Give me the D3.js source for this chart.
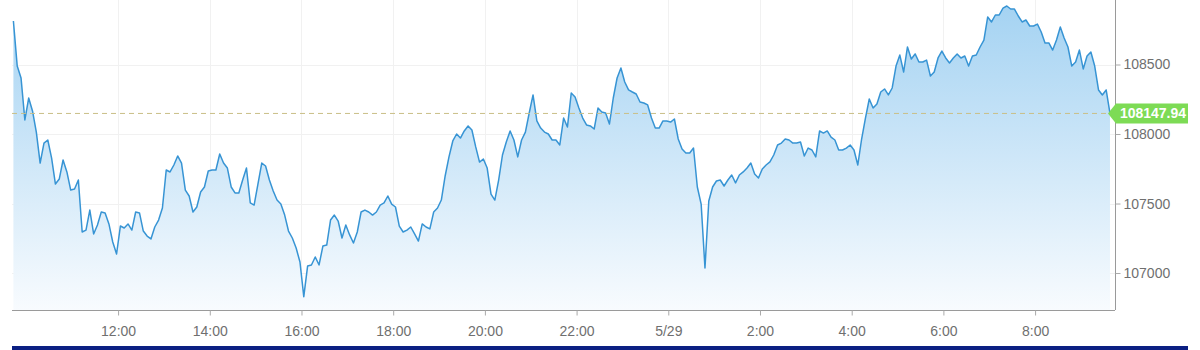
<!DOCTYPE html>
<html>
<head>
<meta charset="utf-8">
<style>
body { margin: 0; background: #fff; }
svg { display: block; font-family: "Liberation Sans", Arial, sans-serif; }
</style>
</head>
<body>
<svg width="1200" height="350"></svg>
<script src="https://d3js.org/d3.v7.min.js"></script>
<script>

// quote every 5 minutes, starting 5/28 9:43
var startTime = new Date(2018, 4, 28, 9, 43);
var stepMinutes = 5;

var prices = [
  108813, 108489, 108403, 108101, 108259, 108166, 108014, 107791, 107935, 107957,
  107827, 107640, 107676, 107813, 107727, 107597, 107604, 107669, 107295, 107309,
  107453, 107281, 107345, 107439, 107432, 107353, 107223, 107137, 107338, 107324,
  107353, 107309, 107439, 107432, 107302, 107266, 107245, 107331, 107381, 107468,
  107741, 107727, 107777, 107842, 107791, 107597, 107554, 107439, 107475, 107583,
  107619, 107734, 107741, 107741, 107856, 107791, 107755, 107619, 107576, 107576,
  107669, 107755, 107504, 107489, 107640, 107791, 107770, 107669, 107590, 107525,
  107496, 107417, 107302, 107252, 107180, 107079, 106830, 107050, 107058, 107115,
  107058, 107194, 107201, 107381, 107417, 107374, 107252, 107345, 107274, 107216,
  107295, 107439, 107453, 107439, 107417, 107439, 107489, 107504, 107554, 107496,
  107475, 107338, 107295, 107309, 107331, 107281, 107230, 107353, 107331, 107317,
  107439, 107468, 107525, 107698, 107835, 107950, 108000, 107971, 108022, 108058,
  108029, 107907, 107798, 107820, 107755, 107568, 107525, 107669, 107849, 107942,
  108022, 107957, 107835, 107957, 108014, 108151, 108281, 108094, 108043, 108014,
  108000, 107957, 107957, 107921, 108115, 108050, 108295, 108266, 108187, 108115,
  108065, 108058, 108036, 108187, 108158, 108151, 108072, 108259, 108403, 108475,
  108374, 108317, 108302, 108288, 108230, 108223, 108209, 108115, 108043, 108043,
  108094, 108094, 108086, 108108, 107964, 107892, 107864, 107864, 107899, 107619,
  107496, 107036, 107518, 107619, 107662, 107669, 107626, 107669, 107705, 107648,
  107705, 107727, 107755, 107791, 107712, 107684, 107748, 107777, 107799, 107849,
  107921, 107935, 107964, 107957, 107935, 107935, 107942, 107842, 107899, 107885,
  107835, 108022, 108007, 108022, 107978, 107957, 107885, 107885, 107899, 107921,
  107885, 107777, 107964, 108115, 108252, 108187, 108216, 108302, 108324, 108281,
  108331, 108489, 108568, 108446, 108626, 108540, 108576, 108518, 108518, 108532,
  108417, 108446, 108547, 108597, 108547, 108511, 108547, 108576, 108547, 108561,
  108489, 108561, 108568, 108626, 108676, 108842, 108806, 108856, 108856, 108906,
  108921, 108899, 108899, 108849, 108806, 108820, 108777, 108777, 108791, 108734,
  108655, 108655, 108604, 108676, 108770, 108691, 108626, 108489, 108518, 108604,
  108468, 108561, 108590, 108489, 108317, 108281, 108317, 108147.94
];

var lastPrice = 108147.94;

var yTicks = [107000, 107500, 108000, 108500];

var xTickTimes = [
  new Date(2018, 4, 28, 12), new Date(2018, 4, 28, 14), new Date(2018, 4, 28, 16),
  new Date(2018, 4, 28, 18), new Date(2018, 4, 28, 20), new Date(2018, 4, 28, 22),
  new Date(2018, 4, 29, 0), new Date(2018, 4, 29, 2), new Date(2018, 4, 29, 4),
  new Date(2018, 4, 29, 6), new Date(2018, 4, 29, 8)
];
var xTickLabels = ["12:00", "14:00", "16:00", "18:00", "20:00", "22:00", "5/29", "2:00", "4:00", "6:00", "8:00"];

var data = prices.map(function(p, i) {
  return { t: new Date(startTime.getTime() + i * stepMinutes * 60000), v: p };
});

var svg = d3.select("svg"),
    plotLeft = 12, plotRight = 1115, plotTop = 0, plotBottom = 310;

var x = d3.scaleTime()
    .domain([new Date(2018, 4, 28, 9, 41, 10), new Date(2018, 4, 29, 9, 44, 34)])
    .range([plotLeft, plotRight]);

var y = d3.scaleLinear()
    .domain([106734, 108964])
    .range([plotBottom, plotTop]);

// gradient for the area
var grad = svg.append("defs").append("linearGradient")
    .attr("id", "fillGrad")
    .attr("gradientUnits", "userSpaceOnUse")
    .attr("x1", 0).attr("y1", plotTop)
    .attr("x2", 0).attr("y2", plotBottom);
grad.append("stop").attr("offset", "0%").attr("stop-color", "#a3d2f2");
grad.append("stop").attr("offset", "100%").attr("stop-color", "#f8fbfe");

// faint grid
svg.append("g")
  .selectAll("line")
  .data(yTicks)
  .enter().append("line")
    .attr("x1", plotLeft).attr("x2", plotRight)
    .attr("y1", function(d) { return Math.round(y(d)) + 0.5; })
    .attr("y2", function(d) { return Math.round(y(d)) + 0.5; })
    .attr("stroke", "#f1f1f1");

svg.append("g")
  .selectAll("line")
  .data(xTickTimes)
  .enter().append("line")
    .attr("x1", function(d) { return Math.round(x(d)) + 0.5; })
    .attr("x2", function(d) { return Math.round(x(d)) + 0.5; })
    .attr("y1", plotTop).attr("y2", plotBottom)
    .attr("stroke", "#f1f1f1");

var area = d3.area()
    .x(function(d) { return x(d.t); })
    .y0(plotBottom)
    .y1(function(d) { return y(d.v); });

var line = d3.line()
    .x(function(d) { return x(d.t); })
    .y(function(d) { return y(d.v); });

svg.append("path")
    .datum(data)
    .attr("fill", "url(#fillGrad)")
    .attr("d", area);

svg.append("path")
    .datum(data)
    .attr("fill", "none")
    .attr("stroke", "#3794d4")
    .attr("stroke-width", 1.5)
    .attr("stroke-linejoin", "round")
    .attr("d", line);

// last price dashed line
var lastX = x(data[data.length - 1].t);
svg.append("line")
    .attr("x1", plotLeft).attr("x2", lastX)
    .attr("y1", y(lastPrice)).attr("y2", y(lastPrice))
    .attr("stroke", "#c9bf86")
    .attr("stroke-width", 1)
    .attr("stroke-dasharray", "5,4");

// bottom axis
var xAxis = d3.axisBottom(x)
    .tickValues(xTickTimes)
    .tickSize(5)
    .tickFormat(function(d, i) { return xTickLabels[i]; });

var gx = svg.append("g")
    .attr("transform", "translate(0," + (plotBottom + 0.5) + ")")
    .call(xAxis);
gx.select(".domain").attr("stroke", "#9a9a9a").attr("d", "M" + plotLeft + ",0H" + plotRight);
gx.selectAll(".tick line").attr("stroke", "#aaa");
gx.selectAll(".tick text")
    .attr("fill", "#6f6f6f")
    .attr("font-size", 14)
    .attr("font-family", "Liberation Sans, Arial, sans-serif")
    .attr("dy", "1.25em");

// right axis
var yAxis = d3.axisRight(y)
    .tickValues(yTicks)
    .tickSize(5)
    .tickPadding(3)
    .tickFormat(d3.format("d"));

var gy = svg.append("g")
    .attr("transform", "translate(" + (plotRight + 0.5) + ",0)")
    .call(yAxis);
gy.select(".domain").attr("stroke", "#9a9a9a").attr("d", "M0," + plotTop + "V" + plotBottom);
gy.selectAll(".tick line").attr("stroke", "#aaa");
gy.selectAll(".tick text")
    .attr("fill", "#6f6f6f")
    .attr("font-size", 14)
    .attr("font-family", "Liberation Sans, Arial, sans-serif");

// last price tag
var ty = y(lastPrice), tx = lastX - 2;
svg.append("path")
    .attr("d", "M" + tx + "," + ty + "L" + (tx + 8) + "," + (ty - 10) + "H1188V" + (ty + 10) + "H" + (tx + 8) + "Z")
    .attr("fill", "#7ddb55");
svg.append("text")
    .attr("x", 1153)
    .attr("y", ty)
    .attr("dy", "0.35em")
    .attr("text-anchor", "middle")
    .attr("fill", "#fff")
    .attr("font-size", 14)
    .attr("font-weight", "bold")
    .text(d3.format(".2f")(lastPrice));

// dark strip at the bottom
svg.append("rect")
    .attr("x", plotLeft)
    .attr("y", 346)
    .attr("width", 1188 - plotLeft)
    .attr("height", 4)
    .attr("fill", "#0b1f82");

</script>
</body>
</html>
